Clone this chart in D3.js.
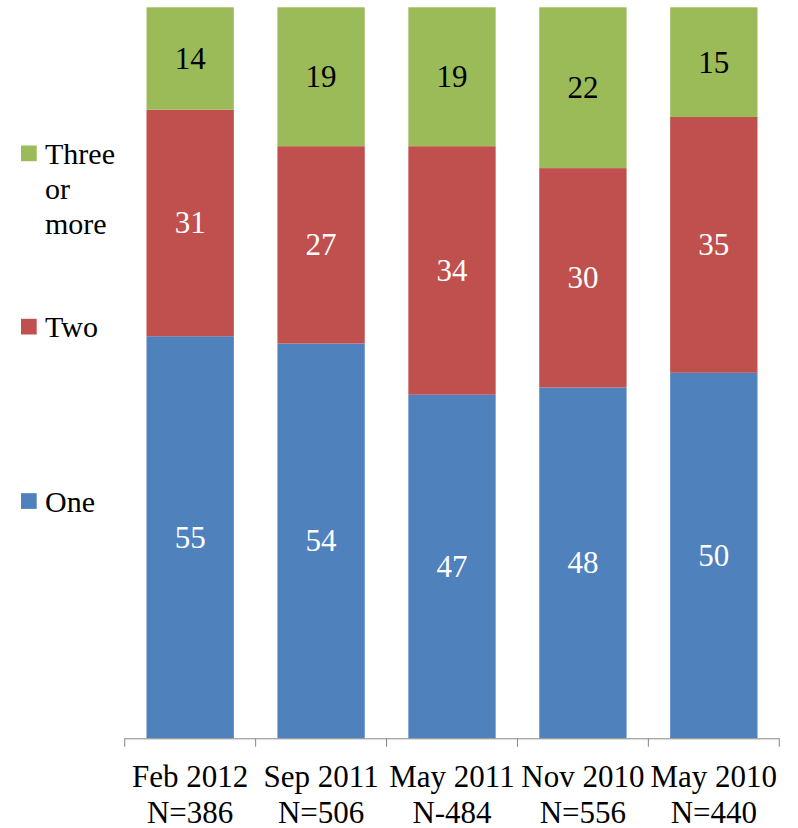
<!DOCTYPE html>
<html>
<head>
<meta charset="utf-8">
<script src="https://cdn.jsdelivr.net/npm/d3@7/dist/d3.min.js"></script>
<style>
body{margin:0;}
#wrap{position:relative;width:798px;height:828px;font-family:"Liberation Serif","Times New Roman",Tinos,serif;}
#wrap svg{position:absolute;left:0;top:0;}
.lbl{position:absolute;white-space:nowrap;line-height:1;}
</style>
</head>
<body>
<div id="wrap"><svg id="fig" width="798" height="828"></svg></div>
<script>
const categories = ["Feb 2012", "Sep 2011", "May 2011", "Nov 2010", "May 2010"];
const sampleSizes = ["N=386", "N=506", "N-484", "N=556", "N=440"];
const seriesNames = ["One", "Two", "Three or more"];
const one = [55, 54, 47, 48, 50];
const two = [31, 27, 34, 30, 35];
const threePlus = [14, 19, 19, 22, 15];
const colors = ["#4F81BD", "#C0504D", "#9BBB59"];
const labelColors = ["#ffffff", "#ffffff", "#000000"];

const wrap = d3.select("#wrap");
const svg = d3.select("#fig");
const x = d3.scaleBand().domain(categories).range([124.7, 779.3]).paddingInner(0.333).paddingOuter(0.1667);
const y = d3.scaleLinear().domain([0, 100]).range([738.3, 7.3]);

const rows = categories.map((c, i) => ({cat: c, One: one[i], Two: two[i], "Three or more": threePlus[i]}));
const stack = d3.stack().keys(seriesNames)(rows);

const layers = svg.append("g").selectAll("g").data(stack).join("g").attr("fill", (d, i) => colors[i]);
layers.selectAll("rect").data(d => d).join("rect")
  .attr("x", d => x(d.data.cat))
  .attr("width", x.bandwidth())
  .attr("y", d => y(d[1]))
  .attr("height", d => y(d[0]) - y(d[1]));

// HTML label placed so that its baseline sits at (bx, by); anchor: 'middle' or 'start'
function label(text, bx, by, size, color, anchor) {
  const d = wrap.append("div").attr("class", "lbl")
    .style("font-size", size + "px").style("color", color).text(text);
  // Liberation Serif ascent ~0.891em with line-height 1 -> baseline offset approx 0.891*size - (1.107-1)/2... compute via probe
  const node = d.node();
  const probe = document.createElement("span");
  probe.style.display = "inline-block"; probe.style.width = "0"; probe.style.height = "0"; probe.style.verticalAlign = "baseline";
  node.appendChild(probe);
  const base = probe.offsetTop;
  const w = node.getBoundingClientRect().width;
  node.removeChild(probe);
  d.style("top", (by - base) + "px").style("left", (anchor === "middle" ? bx - w / 2 : bx) + "px");
}

stack.forEach((layer, li) => {
  layer.forEach(d => {
    label(String(d[1] - d[0]), x(d.data.cat) + x.bandwidth() / 2, (y(d[0]) + y(d[1])) / 2 + 10.5, 31, labelColors[li], "middle");
  });
});

// axis
const axisG = svg.append("g").attr("transform", "translate(0,738.3)");
axisG.call(d3.axisBottom(x).tickSize(0).tickFormat(""));
axisG.select(".domain").attr("stroke", "#868686").attr("d", "M124.7,0.5H779.3");
const bounds = categories.map(c => x(c) - x.step() * x.paddingInner() / 2);
bounds.push(x(categories[categories.length - 1]) + x.bandwidth() + x.step() * x.paddingInner() / 2);
bounds.forEach(b => {
  axisG.append("line").attr("x1", b).attr("x2", b).attr("y1", 0).attr("y2", 8.5)
    .attr("stroke", "#868686").attr("stroke-width", 1);
});

categories.forEach((c, i) => {
  const cx = x(c) + x.bandwidth() / 2;
  label(c, cx, 786.7, 31, "#000", "middle");
  label(sampleSizes[i], cx, 823, 31, "#000", "middle");
});

// legend
const legendItems = [
  {lines: ["Three", "or", "more"], color: colors[2], base: 164},
  {lines: ["Two"], color: colors[1], base: 337.3},
  {lines: ["One"], color: colors[0], base: 511.7}
];
legendItems.forEach(it => {
  svg.append("rect").attr("x", 21).attr("y", it.base - 18.5).attr("width", 15.7).attr("height", 15.7).attr("fill", it.color);
  it.lines.forEach((l, k) => label(l, 45, it.base + k * 35.2, 30, "#000", "start"));
});
</script>
</body>
</html>
